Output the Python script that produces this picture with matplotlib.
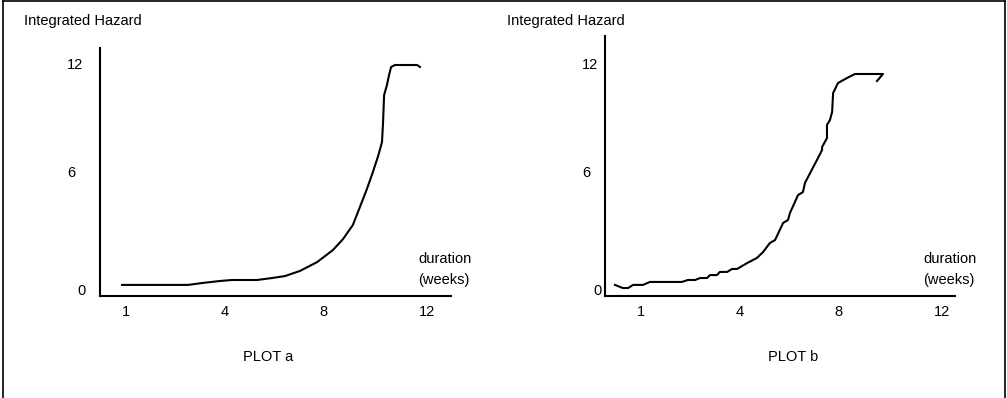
import matplotlib
matplotlib.use("Agg")
import matplotlib.pyplot as plt
import numpy as np
from matplotlib.lines import Line2D

plt.rcParams['font.family'] = ['Liberation Sans', 'DejaVu Sans']
plt.rcParams['font.size'] = 10.5

# data (weeks, integrated hazard)
weeks_a = [0.88, 2.88, 3.33, 3.85, 4.29, 5.31, 5.92, 6.45, 7.06, 7.76, 8.38, 8.77, 9.15,
           9.42, 9.69, 9.92, 10.12, 10.27, 10.31, 10.35, 10.46, 10.54, 10.62, 10.77, 11.62, 11.73]
hazard_a = [0.31, 0.31, 0.41, 0.51, 0.56, 0.56, 0.66, 0.76, 1.02, 1.47, 2.08, 2.64, 3.36,
            4.27, 5.19, 6.06, 6.94, 7.72, 8.83, 10.33, 10.89, 11.44, 11.89, 12.0, 12.0, 11.89]

weeks_b = [0.21, 0.45, 0.61, 0.76, 1.06, 1.27, 2.24, 2.42, 2.64, 2.79, 3.0, 3.09, 3.30, 3.39,
           3.61, 3.76, 3.91, 4.29, 4.69, 4.94, 5.22, 5.43, 5.76, 5.96, 6.04, 6.37, 6.57, 6.65,
           7.14, 7.35, 7.35, 7.55, 7.55, 7.67, 7.76, 7.80, 8.0, 8.35, 8.65, 9.73, 9.50]
hazard_b = [0.31, 0.15, 0.15, 0.31, 0.31, 0.46, 0.46, 0.56, 0.56, 0.66, 0.66, 0.81, 0.81, 0.97,
            0.97, 1.12, 1.12, 1.42, 1.68, 1.98, 2.44, 2.59, 3.46, 3.61, 3.97, 4.88, 5.03, 5.49,
            6.72, 7.28, 7.44, 7.94, 8.67, 8.94, 9.39, 10.44, 11.0, 11.28, 11.5, 11.5, 11.11]

x_ticks = [1, 4, 8, 12]
y_ticks = [0, 6, 12]
plot_names = ["PLOT a", "PLOT b"]

# the hand drawn axes are not evenly scaled, so use piecewise-linear scales
X_TICK_POS = [0, 99, 197, 301]
Y_TICK_POS = [0, 118, 226]


def piecewise(values, pos):
    values = np.asarray(values, float)
    pos = np.asarray(pos, float)
    lo = (pos[1] - pos[0]) / (values[1] - values[0])
    hi = (pos[-1] - pos[-2]) / (values[-1] - values[-2])
    v = np.r_[values[0] - 100, values, values[-1] + 100]
    p = np.r_[pos[0] - 100 * lo, pos, pos[-1] + 100 * hi]
    return (lambda x: np.interp(x, v, p)), (lambda y: np.interp(y, p, v))


W, H = 1007, 398
fig = plt.figure(figsize=(W / 100, H / 100), dpi=100)


def fx(x):
    return x / W


def fy(y):
    return 1 - y / H


xf, xi = piecewise(x_ticks, X_TICK_POS)
yf, yi = piecewise(y_ticks, Y_TICK_POS)

# axes boxes in pixels: left, top, right, bottom
boxes = [(100, 48, 451, 296), (605, 36, 955, 296)]
xtick_px0 = [126, 641]
ylab_x = [[82, 71, 75], [597, 586, 590]]
curves = [(weeks_a, hazard_a), (weeks_b, hazard_b)]

for i, (l, t, r, b) in enumerate(boxes):
    ax = fig.add_axes([fx(l), fy(b), fx(r - l), (b - t) / H])
    ax.set_xscale('function', functions=(xf, xi))
    ax.set_yscale('function', functions=(yf, yi))
    ax.set_xlim(xi(l - xtick_px0[i]), xi(r - xtick_px0[i]))
    ax.set_ylim(yi(291 - b), yi(291 - t))
    x, y = curves[i]
    ax.plot(x, y, color='black', lw=1.5, solid_joinstyle='round')
    for s in ['top', 'right']:
        ax.spines[s].set_visible(False)
    for s in ['left', 'bottom']:
        ax.spines[s].set_linewidth(1.5)
    ax.set_xticks(x_ticks, [str(v) for v in x_ticks])
    ax.tick_params(axis='x', length=0, pad=6.5, labelsize=10.5)
    ax.set_yticks([])
    for v, px in zip(y_ticks, ylab_x[i]):
        ax.text((px - l) / (r - l), v, str(v), transform=ax.get_yaxis_transform(),
                ha='center', va='center', fontsize=10.5)

    fig.text(fx(l - 76 if i == 0 else l - 98), fy(21), "Integrated Hazard",
             ha='left', va='center', fontsize=10.5)
    fig.text(fx(r - 33 if i == 0 else r - 32), fy(259), "duration", ha='left', va='center')
    fig.text(fx(r - 33 if i == 0 else r - 32), fy(280), "(weeks)", ha='left', va='center')
    fig.text(fx((l + r) / 2 - 7 if i == 0 else (l + r) / 2 + 13), fy(357), plot_names[i],
             ha='center', va='center')

# frame around the whole figure (bottom edge is cut off)
for xs, ys in [([3, 3], [1, 400]), ([3, 1005], [1, 1]), ([1005, 1005], [1, 400])]:
    fig.add_artist(Line2D([fx(v) for v in xs], [fy(v) for v in ys], color='black', lw=1.2))

fig.savefig("out.png", dpi=100)
